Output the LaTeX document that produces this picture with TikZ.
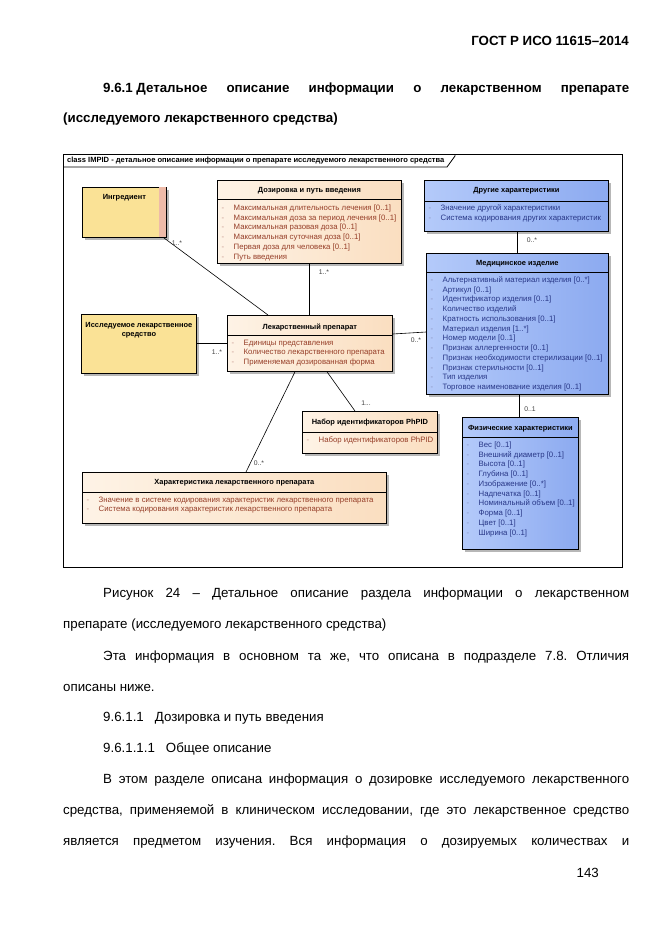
\documentclass[tikz,border=0pt]{standalone}
\usepackage{fontspec}
\setmainfont{Liberation Sans}
\usetikzlibrary{shadows}

\definecolor{ingrfill}{RGB}{250,226,150}
\definecolor{ingrpink}{RGB}{238,186,168}
\definecolor{peachL}{RGB}{254,243,230}
\definecolor{peachR}{RGB}{250,222,192}
\definecolor{blueL}{RGB}{180,202,250}
\definecolor{blueR}{RGB}{140,170,240}
\definecolor{attrred}{RGB}{150,62,40}
\definecolor{attrblue}{RGB}{40,55,135}

\newcommand{\bul}{\makebox[12pt][l]{\textcolor{.!55}{-}}}
\frenchspacing

\begin{document}
\begin{tikzpicture}[x=1pt,y=-1pt,
    umlbox/.style={draw=black,line width=0.8pt,anchor=north west,inner sep=0pt,
        drop shadow={shadow xshift=2.5pt,shadow yshift=-2.5pt,fill=black!35,opacity=0.8}},
    peachbox/.style={umlbox,left color=peachL,right color=peachR},
    bluebox/.style={umlbox,left color=blueL,right color=blueR},
    yellowbox/.style={umlbox,fill=ingrfill},
    umltitle/.style={font=\fontsize{7.45}{9}\selectfont\bfseries,inner sep=0pt,align=center},
    umlattr/.style={font=\fontsize{7.8}{9.75}\selectfont,anchor=north west,inner sep=0pt,align=left},
    mult/.style={font=\fontsize{6.8}{7}\selectfont,text=black!75,inner sep=0pt},
    body/.style={font=\fontsize{13.3}{16}\selectfont,anchor=base west,inner sep=0pt},
    bodybf/.style={font=\fontsize{13.3}{16}\selectfont\bfseries,anchor=base west,inner sep=0pt}]

    \useasboundingbox[fill=white] (0,0) rectangle (661,935);

    % page text
    \node[bodybf,anchor=base east] (gost) at (629,45) {ГОСТ Р ИСО 11615–2014};
    \node[bodybf] (headA) at (103,92) {\makebox[526pt][s]{\mbox{9.6.1 Детальное} описание информации о лекарственном препарате}};
    \node[bodybf] (headB) at (63,122) {(исследуемого лекарственного средства)};

    % frame
    \draw[line width=0.8pt] (63,154) rectangle (622,567);
    \draw[line width=0.8pt] (63,167) -- (447,167) -- (455,156) -- (455,154);
    \node[font=\fontsize{7.55}{8}\selectfont\bfseries,anchor=west,inner sep=0pt] (frametitle) at (67,160.5)
        {class IMPID - детальное описание информации о препарате исследуемого лекарственного средства};

    % classes
    \node[yellowbox,minimum width=84pt,minimum height=50pt] (ingr) at (82,187) {};
    \fill[ingrpink] ([xshift=-8pt,yshift=-0.4pt]ingr.north east) rectangle ([xshift=-0.4pt,yshift=0.4pt]ingr.south east);
    \node[umltitle] (ingrtitle) at ([yshift=-11pt]ingr.north) {Ингредиент};

    \node[yellowbox,minimum width=115pt,minimum height=59pt] (invprod) at (81,314) {};
    \node[umltitle] (invprodtitle) at ([yshift=-16.5pt]invprod.north) {Исследуемое лекарственное\\средство};

    \node[peachbox,minimum width=184pt,minimum height=83pt] (dose) at (217,180) {};
    \node[umltitle] (dosetitle) at ([yshift=-11pt]dose.north) {Дозировка и путь введения};
    \draw[line width=0.8pt] ([yshift=-19pt]dose.north west) -- ([yshift=-19pt]dose.north east);
    \node[umlattr,text=attrred] (doseattr) at ([xshift=4.5pt,yshift=-24.5pt]dose.north west)
        {\bul Максимальная длительность лечения [0..1]\\
         \bul Максимальная доза за период лечения [0..1]\\
         \bul Максимальная разовая доза [0..1]\\
         \bul Максимальная суточная доза [0..1]\\
         \bul Первая доза для человека [0..1]\\
         \bul Путь введения};

    \node[bluebox,minimum width=184pt,minimum height=51pt] (other) at (424,180) {};
    \node[umltitle] (othertitle) at ([yshift=-11pt]other.north) {Другие характеристики};
    \draw[line width=0.8pt] ([yshift=-21pt]other.north west) -- ([yshift=-21pt]other.north east);
    \node[umlattr,text=attrblue] (otherattr) at ([xshift=4.5pt,yshift=-24.5pt]other.north west)
        {\bul Значение другой характеристики\\
         \bul Система кодирования других характеристик};

    \node[bluebox,minimum width=182pt,minimum height=141pt] (medev) at (426,253) {};
    \node[umltitle] (medevtitle) at ([yshift=-11pt]medev.north) {Медицинское изделие};
    \draw[line width=0.8pt] ([yshift=-19pt]medev.north west) -- ([yshift=-19pt]medev.north east);
    \node[umlattr,text=attrblue] (medevattr) at ([xshift=4.5pt,yshift=-23.5pt]medev.north west)
        {\bul Альтернативный материал изделия [0..*]\\
         \bul Артикул [0..1]\\
         \bul Идентификатор изделия [0..1]\\
         \bul Количество изделий\\
         \bul Кратность использования [0..1]\\
         \bul Материал изделия [1..*]\\
         \bul Номер модели [0..1]\\
         \bul Признак аллергенности [0..1]\\
         \bul Признак необходимости стерилизации [0..1]\\
         \bul Признак стерильности [0..1]\\
         \bul Тип изделия\\
         \bul Торговое наименование изделия [0..1]};

    \node[peachbox,minimum width=165pt,minimum height=56pt] (drug) at (227,315) {};
    \node[umltitle] (drugtitle) at ([yshift=-12pt]drug.north) {Лекарственный препарат};
    \draw[line width=0.8pt] ([yshift=-20pt]drug.north west) -- ([yshift=-20pt]drug.north east);
    \node[umlattr,text=attrred] (drugattr) at ([xshift=4.5pt,yshift=-24.5pt]drug.north west)
        {\bul Единицы представления\\
         \bul Количество лекарственного препарата\\
         \bul Применяемая дозированная форма};

    \node[peachbox,minimum width=135pt,minimum height=42pt] (phpid) at (302,411) {};
    \node[umltitle] (phpidtitle) at ([yshift=-12pt]phpid.north) {Набор идентификаторов PhPID};
    \draw[line width=0.8pt] ([yshift=-21pt]phpid.north west) -- ([yshift=-21pt]phpid.north east);
    \node[umlattr,text=attrred] (phpidattr) at ([xshift=4.5pt,yshift=-25.5pt]phpid.north west)
        {\bul Набор идентификаторов PhPID};

    \node[bluebox,minimum width=116pt,minimum height=132pt] (phys) at (462,417) {};
    \node[umltitle] (physttitle) at ([yshift=-12pt]phys.north) {Физические характеристики};
    \draw[line width=0.8pt] ([yshift=-20pt]phys.north west) -- ([yshift=-20pt]phys.north east);
    \node[umlattr,text=attrblue] (physattr) at ([xshift=4.5pt,yshift=-24.5pt]phys.north west)
        {\bul Вес [0..1]\\
         \bul Внешний диаметр [0..1]\\
         \bul Высота [0..1]\\
         \bul Глубина [0..1]\\
         \bul Изображение [0..*]\\
         \bul Надпечатка [0..1]\\
         \bul Номинальный объем [0..1]\\
         \bul Форма [0..1]\\
         \bul Цвет [0..1]\\
         \bul Ширина [0..1]};

    \node[peachbox,minimum width=304pt,minimum height=51pt] (drugchar) at (82,472) {};
    \node[umltitle] (drugchartitle) at ([yshift=-11pt]drugchar.north) {Характеристика лекарственного препарата};
    \draw[line width=0.8pt] ([yshift=-20pt]drugchar.north west) -- ([yshift=-20pt]drugchar.north east);
    \node[umlattr,text=attrred] (drugcharattr) at ([xshift=4.5pt,yshift=-24.5pt]drugchar.north west)
        {\bul Значение в системе кодирования характеристик лекарственного препарата\\
         \bul Система кодирования характеристик лекарственного препарата};

    % associations
    \begin{scope}[every edge/.style={draw=black,line width=0.6pt}]
        \path [-] ([xshift=-3pt]ingr.south east) edge ([xshift=41pt]drug.north west);
        \path [-] ([xshift=92pt]dose.south west) edge ([xshift=82pt]drug.north west);
        \path [-] ([xshift=93pt]other.south west) edge ([xshift=91pt]medev.north west);
        \path [-] ([yshift=-19pt]drug.north east) edge ([yshift=-79pt]medev.north west);
        \path [-] ([yshift=-29pt]invprod.north east) edge ([yshift=-28pt]drug.north west);
        \path [-] ([xshift=100pt]drug.south west) edge ([xshift=53pt]phpid.north west);
        \path [-] ([xshift=68pt]drug.south west) edge ([xshift=164pt]drugchar.north west);
        \path [-] ([xshift=93pt]medev.south west) edge ([xshift=57pt]phys.north west);
    \end{scope}

    \node[mult] (mingr) at (177,243) {1..*};
    \node[mult] (mdose) at (324,272) {1..*};
    \node[mult] (mother) at (532,240) {0..*};
    \node[mult] (mmedev) at (416,340) {0..*};
    \node[mult] (minvprod) at (217,352) {1..*};
    \node[mult] (mphpid) at (366,403) {1...};
    \node[mult] (mdrugchar) at (259,463) {0..*};
    \node[mult] (mphys) at (530,409) {0..1};

    % caption and text
    \node[body] (capA) at (103,597) {\makebox[526pt][s]{Рисунок 24 – Детальное описание раздела информации о лекарственном}};
    \node[body] (capB) at (63,628) {препарате (исследуемого лекарственного средства)};
    \node[body] (parA) at (103,660) {\makebox[526pt][s]{Эта информация в основном та же, что описана в подразделе 7.8. Отличия}};
    \node[body] (parB) at (63,691) {описаны ниже.};
    \node[body] (secA) at (103,721) {9.6.1.1\hspace{11pt}Дозировка и путь введения};
    \node[body] (secB) at (103,752) {9.6.1.1.1\hspace{11pt}Общее описание};
    \node[body] (parC) at (103,783) {\makebox[526pt][s]{В этом разделе описана информация о дозировке исследуемого лекарственного}};
    \node[body] (parD) at (63,814) {\makebox[566pt][s]{средства, применяемой в клиническом исследовании, где это лекарственное средство}};
    \node[body] (parE) at (63,845) {\makebox[566pt][s]{является предметом изучения. Вся информация о дозируемых количествах и}};
    \node[body,anchor=base east] (pagenum) at (599,877) {143};
\end{tikzpicture}
\end{document}
